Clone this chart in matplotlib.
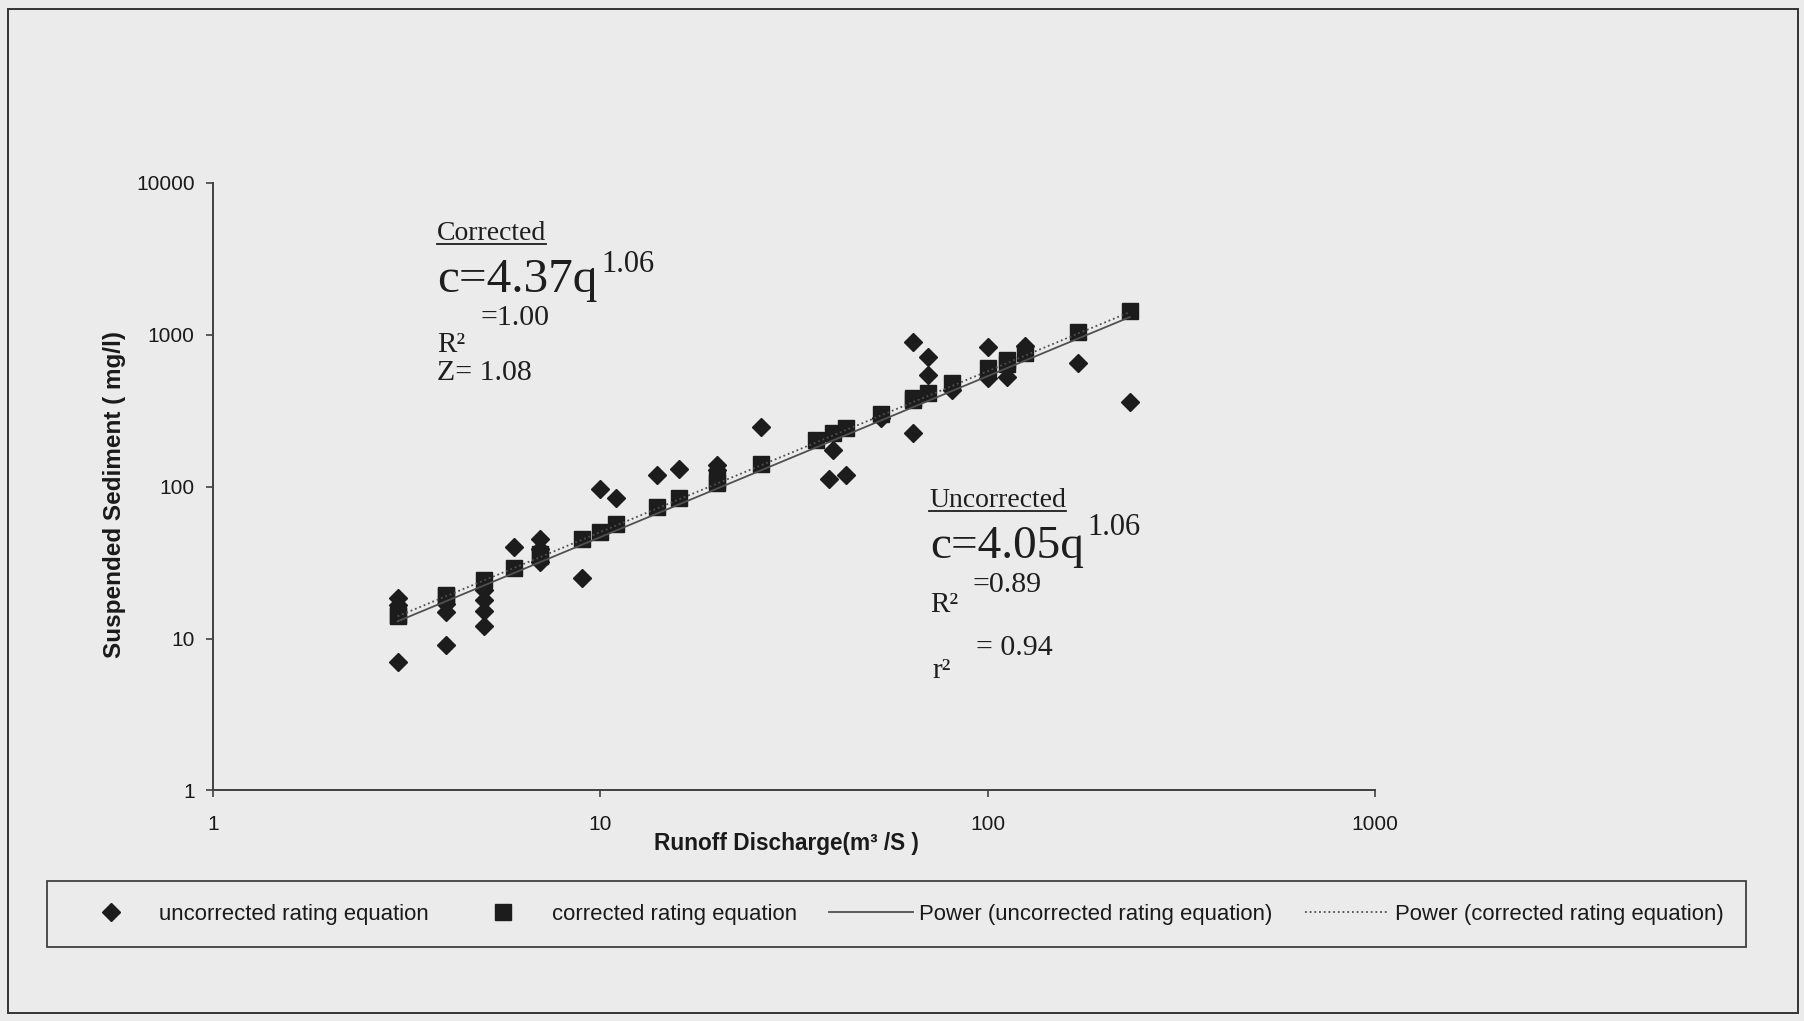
import numpy as np
import matplotlib.pyplot as plt
from matplotlib.lines import Line2D
from matplotlib.patches import Rectangle
from matplotlib.transforms import IdentityTransform

plt.rcParams['font.family'] = ['Liberation Sans', 'DejaVu Sans']

# discharge q (m3/s) and suspended sediment c (mg/l)
q_uncorr = [3, 3, 3, 4, 4, 4, 5, 5, 5, 5, 6, 7, 7, 7, 9, 10, 11, 14, 16, 20, 20,
            26, 39, 40, 43, 53, 64, 64, 70, 70, 81, 100, 100, 112, 125, 171, 233]
c_uncorr = [18.5, 16.5, 7.0, 17, 15, 9.1, 21, 18, 15.2, 12.1, 40, 45, 39, 32, 25, 97, 84,
            119, 130, 139, 128, 248, 113, 174, 119, 285, 900, 224, 716, 543, 433, 834,
            516, 529, 840, 648, 362]

q_corr = [3, 3, 4, 4, 5, 6, 7, 7, 9, 10, 11, 14, 16, 20, 20, 26, 36, 40, 43, 53,
          64, 64, 70, 81, 100, 112, 112, 125, 171, 233]
c_corr = [14.0, 14.3, 19.0, 19.3, 24.3, 29, 35, 36, 45, 50.5, 57, 74, 84, 105, 110,
          142, 203, 224, 242, 300, 372, 381, 411, 479, 601, 640, 681, 754, 1047, 1430]

# fitted rating curves c = a * q^b
a_uncorr, b_uncorr = 4.05, 1.06
a_corr, b_corr = 4.37, 1.06

x_ticks = [1, 10, 100, 1000]
y_ticks = [1, 10, 100, 1000, 10000]

labels = ['uncorrected rating equation', 'corrected rating equation',
          'Power (uncorrected rating equation)', 'Power (corrected rating equation)']

BG = '#ebebeb'
MK = '#1c1c1c'
LN = '#505050'
W, H = 1804, 1021

fig = plt.figure(figsize=(W / 100, H / 100), dpi=100, facecolor=BG)


def fx(x):
    return x / W


def fy(y):
    return 1 - y / H


ax = fig.add_axes([fx(212.8), fy(790.4), (1375 - 212.8) / W, (790.4 - 182.9) / H])
ax.set_facecolor(BG)
ax.set_xscale('log')
ax.set_yscale('log')
ax.set_xlim(1, 1000)
ax.set_ylim(1, 10000)

p1, = ax.plot(q_uncorr, c_uncorr, ls='none', marker='D', ms=9.2, color=MK, zorder=2)
p2, = ax.plot(q_corr, c_corr, ls='none', marker='s', ms=11.5, color=MK, zorder=2)

qq = np.geomspace(min(q_uncorr + q_corr), max(q_uncorr + q_corr), 50)
l1, = ax.plot(qq, a_uncorr * qq ** b_uncorr, color=LN, lw=1.3, zorder=3)
l2, = ax.plot(qq, a_corr * qq ** b_corr, color=LN, lw=1.3, ls=(0, (1, 1.6)), zorder=3)

for s in ['top', 'right']:
    ax.spines[s].set_visible(False)
for s in ['left', 'bottom']:
    ax.spines[s].set_color('#404040')
    ax.spines[s].set_linewidth(1.4)

ax.set_xticks(x_ticks)
ax.set_xticklabels([str(v) for v in x_ticks])
ax.set_yticks(y_ticks)
ax.set_yticklabels([str(v) for v in y_ticks])
ax.minorticks_off()
ax.tick_params(axis='both', direction='out', length=5, width=1.2, color='#404040',
               labelsize=15, labelcolor='#1a1a1a')
ax.tick_params(axis='x', pad=13)
ax.tick_params(axis='y', pad=8)

fig.text(fx(115), fy(495), 'Suspended Sediment ( mg/l)', rotation=90, ha='center',
         va='center', fontsize=17.5, fontweight='bold', color='#1a1a1a')
fig.text(fx(786), fy(843), 'Runoff Discharge(m³ /S )', ha='center', va='center',
         fontsize=16.3, fontweight='bold', color='#1a1a1a')

serif = ['Liberation Serif', 'DejaVu Serif']
TC = '#1e1e1e'


def note(x, y, s, size):
    return fig.text(fx(x), fy(y), s, ha='left', va='baseline', fontsize=size,
                    family=serif, color=TC)


# corrected equation block
t_corr = note(437, 240, 'Corrected', 20)
note(437, 292, 'c=4.37q', 35.5)
note(601, 272, '1.06', 22)
note(437, 352, 'R²', 21)
note(481, 325, '=1.00', 21.5)
note(437, 380, 'Z= 1.08', 21.5)

# uncorrected equation block
t_unc = note(929, 507, 'Uncorrected', 20)
note(930, 558, 'c=4.05q', 34)
note(1087, 535, '1.06', 22)
note(930, 612, 'R²', 21)
note(972, 592, '=0.89', 21.5)
note(932, 678, 'r²', 21)
note(976, 655, '= 0.94', 21.5)

fig.canvas.draw()
for t in (t_corr, t_unc):
    bb = t.get_window_extent()
    fig.add_artist(Line2D([bb.x0, bb.x1], [bb.y0 + 2, bb.y0 + 2],
                          transform=IdentityTransform(), color=TC, lw=1.3))

leg = fig.legend([p1, p2, l1, l2], labels, loc='center',
                 bbox_to_anchor=(fx(896.5), fy(914)), ncol=4, fontsize=15.9,
                 handlelength=3.8, handletextpad=0.3, columnspacing=1.45,
                 borderpad=1.0, fancybox=False, framealpha=1, facecolor=BG,
                 edgecolor='#404040', labelcolor='#1a1a1a')
leg.get_frame().set_linewidth(1.3)

# outer frame around the whole chart
fig.add_artist(Rectangle((fx(8), fy(1013)), (1798 - 8) / W, (1013 - 9) / H,
                         transform=fig.transFigure, fill=False, ec='#333333', lw=1.4))

fig.savefig('out.png', dpi=100, facecolor=BG)
